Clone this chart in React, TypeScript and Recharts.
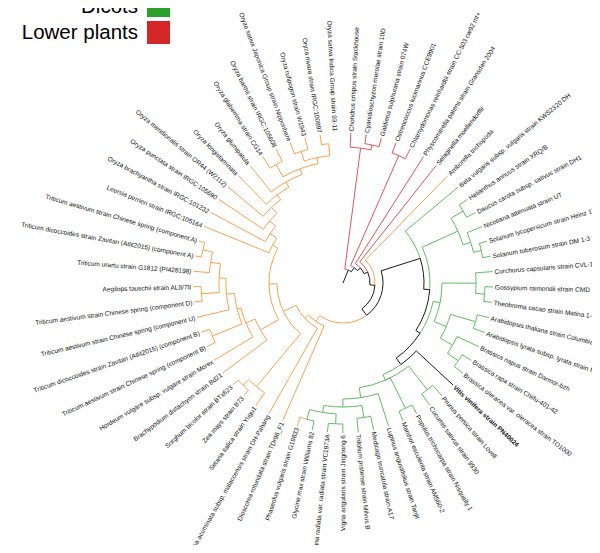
import React from "react";
import { ScatterChart, Scatter, XAxis, YAxis } from "recharts";

const W = 600;
const H = 553;
const CX = 343; // pixel centre of the tree
const CY = 283;
const TIP = 150; // all leaves end on this radius
const START_ANGLE = -87; // screen angle (deg, clockwise) of the first leaf

const leafNames = [
  "Chondrus crispus strain Stackhouse",
  "Cyanidioschyzon merolae strain 10D",
  "Galdieria sulphuraria strain 074W",
  "Ostreococcus lucimarinus CCE9901",
  "Chlamydomonas reinhardtii strain CC-503 cw92 mt+",
  "Physcomitrella patens strain Gransden 2004",
  "Selaginella moellendorffii",
  "Amborella trichopoda",
  "Beta vulgaris subsp. vulgaris strain KWS2320 DH",
  "Helianthus annuus strain XRQ/B",
  "Daucus carota subsp. sativus strain DH1",
  "Nicotiana attenuata strain UT",
  "Solanum lycopersicum strain Heinz 1706",
  "Solanum tuberosum strain DM 1-3 516 R44",
  "Corchorus capsularis strain CVL-1",
  "Gossypium raimondii strain CMD 10",
  "Theobroma cacao strain Matina 1-6",
  "Arabidopsis thaliana strain Columbia",
  "Arabidopsis lyrata subsp. lyrata strain MN47",
  "Brassica napus strain Darmor-bzh",
  "Brassica rapa strain Chiifu-401-42",
  "Brassica oleracea var. oleracea strain TO1000",
  "Vitis vinifera strain PN40024",
  "Prunus persica strain Lovell",
  "Cucumis sativus strain 9930",
  "Populus trichocarpa strain Nisqually 1",
  "Manihot esculenta strain AM560-2",
  "Lupinus angustifolius strain Tanjil",
  "Medicago truncatula strain A17",
  "Trifolium pratense strain Milvus B",
  "Vigna angularis strain Jingnong 6",
  "Vigna radiata var. radiata strain VC1973A",
  "Glycine max strain Williams 82",
  "Phaseolus vulgaris strain G19833",
  "Dioscorea rotundata strain TDr96_F1",
  "Musa acuminata subsp. malaccensis strain DH-Pahang",
  "Setaria italica strain Yugu1",
  "Zea mays strain B73",
  "Sorghum bicolor strain BTx623",
  "Brachypodium distachyon strain Bd21",
  "Hordeum vulgare subsp. vulgare strain Morex",
  "Triticum aestivum strain Chinese spring (component B)",
  "Triticum dicoccoides strain Zavitan (Atlit2015) (component B)",
  "Triticum aestivum strain Chinese spring (component U)",
  "Triticum aestivum strain Chinese spring (component D)",
  "Aegilops tauschii strain AL8/78",
  "Triticum urartu strain G1812 (PI428198)",
  "Triticum dicoccoides strain Zavitan (Atlit2015) (component A)",
  "Triticum aestivum strain Chinese spring (component A)",
  "Leersia perrieri strain IRGC:105164",
  "Oryza brachyantha strain IRGC:101232",
  "Oryza punctata strain IRGC:105690",
  "Oryza meridionalis strain OR44 (W2112)",
  "Oryza longistaminata",
  "Oryza glumipatula",
  "Oryza glaberrima strain CG14",
  "Oryza barthii strain IRGC:105608",
  "Oryza sativa Japonica Group strain Nipponbare",
  "Oryza rufipogon strain W1943",
  "Oryza nivara strain IRGC:100897",
  "Oryza sativa Indica Group strain 93-11",
];

// L = lower plants, M = monocots (and Amborella), D = dicots, V = query species
const leafGroups = "LLLLLLLMDDDDDDDDDDDDDDVDDDDDDDDDDMMMMMMMMMMMMMMMMMMMMMMMMMMM".split("");

// internal nodes: id, radius from centre, children (leaf index or node id)
const treeNodes: [string, number, (number | string)[]][] = [
  ["root", 14, ["rhodo", "L1"]],
  ["rhodo", 136, [0, "cg"]],
  ["cg", 141, [1, 2]],
  ["L1", 19, ["chloro", "L2"]],
  ["chloro", 139, [3, 4]],
  ["L2", 23, [5, "L3"]],
  ["L3", 27, [6, "L4"]],
  ["L4", 32, [7, "meso"]],
  ["meso", 40, ["eud", "mono"]],
  ["eud", 81, [8, "core"]],
  ["core", 87, ["ast", "ros"]],
  ["ast", 126, ["camp", "sol"]],
  ["camp", 140, [9, 10]],
  ["sol", 134, [11, "solanum"]],
  ["solanum", 142, [12, 13]],
  ["ros", 92, ["malv", "vitfab"]],
  ["malv", 99, ["malvales", "brass"]],
  ["malvales", 133, [14, "gt"]],
  ["gt", 142, [15, 16]],
  ["brass", 112, ["arab", "brassica"]],
  ["arab", 138, [17, 18]],
  ["brassica", 126, [19, "br2"]],
  ["br2", 139, [20, 21]],
  ["vitfab", 100, [22, "fab"]],
  ["fab", 106, ["pc", "malp", "fabales"]],
  ["pc", 136, [23, 24]],
  ["malp", 140, [25, 26]],
  ["fabales", 116, [27, "legum"]],
  ["legum", 124, ["mt", "phas"]],
  ["mt", 136, [28, 29]],
  ["phas", 131, ["vig", "gp"]],
  ["vig", 141, [30, 31]],
  ["gp", 141, [32, 33]],
  ["mono", 47, [34, "comm"]],
  ["comm", 52, [35, "poa"]],
  ["poa", 66, ["pac", "bop"]],
  ["pac", 135, [36, "zs"]],
  ["zs", 143, [37, 38]],
  ["bop", 74, ["pooid", "oryzo"]],
  ["pooid", 95, [39, "tritc"]],
  ["tritc", 105, [40, "tri"]],
  ["tri", 109, ["bpair", "t1"]],
  ["bpair", 141, [41, 42]],
  ["t1", 117, [43, "t2"]],
  ["t2", 124, ["dae", "t3"]],
  ["dae", 142, [44, 45]],
  ["t3", 134, [46, "apair"]],
  ["apair", 144, [47, 48]],
  ["oryzo", 80, [49, "oz1"]],
  ["oz1", 88, [50, "oz2"]],
  ["oz2", 96, [51, "oz3"]],
  ["oz3", 104, [52, "oz4"]],
  ["oz4", 110, [53, "oz5"]],
  ["oz5", 116, [54, "oz6"]],
  ["oz6", 122, ["gb", "oz7"]],
  ["gb", 136, [55, 56]],
  ["oz7", 128, ["jr", "ni"]],
  ["jr", 138, [57, 58]],
  ["ni", 140, [59, 60]],
];

const legendNames = ["Monocots", "Dicots", "Lower plants"];
const legendColors = ["#ff7f0e", "#2ca02c", "#d62728"];

const lineColors: Record<string, string> = {
  L: "#e4555a",
  M: "#ffa04f",
  D: "#62bd62",
  V: "#1a1a1a",
};
const BLACK = lineColors.V;

const STEP = 360 / leafNames.length;
const rad = (a: number) => (a * Math.PI) / 180;

interface TreeNode {
  r: number;
  angle: number;
  color: string;
  kids: TreeNode[];
}

function makeNode(ref: number | string): TreeNode {
  if (typeof ref === "number") {
    return {
      r: TIP,
      angle: START_ANGLE + ref * STEP,
      color: lineColors[leafGroups[ref]],
      kids: [],
    };
  }
  const [, r, refs] = treeNodes.find((n) => n[0] === ref)!;
  const kids = refs.map(makeNode);
  const angle = (kids[0].angle + kids[kids.length - 1].angle) / 2;
  const color = kids.some((k) => k.color === BLACK) ? BLACK : kids[0].color;
  return { r, angle, color, kids };
}

const root = makeNode("root");

// one point per branch, sitting at the child's end
const edges: any[] = [];
function collect(parent: TreeNode) {
  parent.kids.forEach((k) => {
    edges.push({
      x: k.r * Math.cos(rad(k.angle)),
      y: -k.r * Math.sin(rad(k.angle)),
      pr: parent.r,
      pa: parent.angle,
      r: k.r,
      a: k.angle,
      color: k.color,
    });
    collect(k);
  });
}
edges.push({
  x: root.r * Math.cos(rad(root.angle)),
  y: -root.r * Math.sin(rad(root.angle)),
  pr: 0,
  pa: root.angle,
  r: root.r,
  a: root.angle,
  color: BLACK,
});
collect(root);

const labels = leafNames.map((name, i) => {
  const a = START_ANGLE + i * STEP;
  return {
    x: (TIP + 2) * Math.cos(rad(a)),
    y: -(TIP + 2) * Math.sin(rad(a)),
    a,
    name,
    bold: leafGroups[i] === "V",
  };
});

const EdgeShape = (props: any) => {
  const { cx, cy, payload } = props;
  const ox = cx - payload.x;
  const oy = cy + payload.y;
  const pt = (r: number, a: number) =>
    `${(ox + r * Math.cos(rad(a))).toFixed(2)},${(oy + r * Math.sin(rad(a))).toFixed(2)}`;
  const { pr, pa, r, a, color } = payload;
  let d: string;
  if (pr === 0) {
    d = `M${pt(0, a)} L${pt(r, a)}`;
  } else {
    const sweep = a > pa ? 1 : 0;
    const large = Math.abs(a - pa) > 180 ? 1 : 0;
    d = `M${pt(pr, pa)} A${pr},${pr} 0 ${large} ${sweep} ${pt(pr, a)} L${pt(r, a)}`;
  }
  return <path d={d} fill="none" stroke={color} strokeWidth={1} />;
};

const LabelShape = (props: any) => {
  const { cx, cy, payload } = props;
  const norm = ((payload.a % 360) + 360) % 360;
  const flip = norm > 90 && norm < 270;
  const rot = flip ? payload.a + 180 : payload.a;
  return (
    <text
      x={cx}
      y={cy}
      transform={`rotate(${rot.toFixed(2)} ${cx} ${cy})`}
      textAnchor={flip ? "end" : "start"}
      dominantBaseline="central"
      fontSize={6.5}
      fontWeight={payload.bold ? "bold" : "normal"}
      fill="#111"
    >
      {payload.name}
    </text>
  );
};

export default function App() {
  return (
    <div
      style={{
        position: "relative",
        width: W,
        height: H,
        margin: -8,
        overflow: "hidden",
        background: "#fff",
        fontFamily: "'Liberation Sans', Arial, Helvetica, sans-serif",
      }}
    >
      <ScatterChart width={W} height={H} margin={{ top: 0, right: 0, bottom: 0, left: 0 }}>
        <XAxis type="number" dataKey="x" domain={[-CX, W - CX]} allowDataOverflow hide />
        <YAxis type="number" dataKey="y" domain={[CY - H, CY]} allowDataOverflow hide />
        <Scatter data={edges} shape={EdgeShape} isAnimationActive={false} />
        <Scatter data={labels} shape={LabelShape} isAnimationActive={false} />
      </ScatterChart>

      {/* legend, partly cut off at the top like the reference */}
      <div style={{ position: "absolute", left: 0, top: -33.6, width: 170 }}>
        {legendNames.map((n, i) => (
          <div
            key={n}
            style={{
              display: "flex",
              justifyContent: "flex-end",
              alignItems: "center",
              height: 26.3,
              gap: 9,
            }}
          >
            <span style={{ fontSize: 20.5, color: "#000" }}>{n}</span>
            <span style={{ width: 23, height: 23, background: legendColors[i], display: "inline-block" }} />
          </div>
        ))}
      </div>

      {/* screenshot edges */}
      <div
        style={{
          position: "absolute",
          left: 0,
          top: 0,
          width: 6,
          height: H,
          background: "#d8d5c9",
          borderRight: "1.5px solid #8d8b58",
        }}
      />
      <div style={{ position: "absolute", left: 185, top: 0, width: W - 185, height: 3, background: "#f8f5e1" }} />
    </div>
  );
}
